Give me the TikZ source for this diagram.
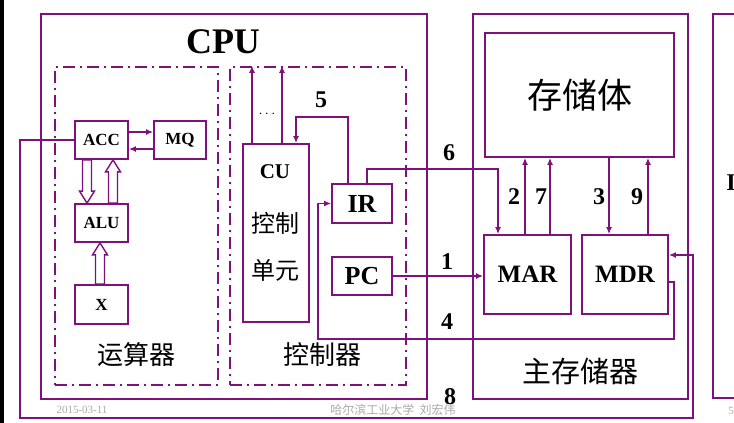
\documentclass[tikz,border=0pt]{standalone}
\usepackage{fontspec}
\setmainfont{Liberation Serif}
\newfontfamily\cjk{Noto Sans CJK SC}
\usetikzlibrary{arrows.meta, calc}
\definecolor{cpupurple}{RGB}{125,18,125}
\definecolor{footgray}{RGB}{170,170,170}
\tikzset{
  frame/.style={
    draw=cpupurple,
    line width=2.6pt,
    inner sep=0pt
  },
  unitbox/.style={
    draw=cpupurple,
    line width=2.4pt,
    inner sep=0pt,
    dash pattern=on 12pt off 5pt on 2pt off 5pt
  },
  reg/.style={
    draw=cpupurple,
    line width=1.8pt,
    inner sep=0pt,
    font=\bfseries\fontsize{17}{17}\selectfont
  },
  bigreg/.style={
    reg,
    font=\bfseries\fontsize{26}{26}\selectfont
  },
  wire/.style={
    draw=cpupurple,
    line width=1.8pt
  },
  arr/.style={
    wire,
    -{Latex[length=7pt, width=6pt]}
  },
  hollow/.style={
    draw=cpupurple,
    line width=1.4pt,
    fill=white
  },
  numlabel/.style={
    font=\bfseries\fontsize{24}{24}\selectfont
  },
  cjklabel/.style={
    font=\cjk\fontsize{26}{26}\selectfont
  },
  footer/.style={
    text=footgray,
    font=\fontsize{11}{11}\selectfont
  }
}
% 空心箭头：#1 箭杆的 x，#2 起点，#3 箭头尖
\newcommand{\hollowarrow}[3]{%
  \path[hollow] let \p1=(#2), \p2=(#3), \p3=($(#3)!12pt!(#2)$) in
    (#1pt-4.5pt,\y1) -- (#1pt-4.5pt,\y3) -- (#1pt-7.5pt,\y3) -- (#1pt,\y2)
    -- (#1pt+7.5pt,\y3) -- (#1pt+4.5pt,\y3) -- (#1pt+4.5pt,\y1) -- cycle;}

\begin{document}
\begin{tikzpicture}[x=1pt, y=-1pt]
  \useasboundingbox (0,0) rectangle (734,423);
  \clip (0,0) rectangle (734,423);
  \fill[white] (0,0) rectangle (734,423);
  \fill[black] (0,0) rectangle (4,423);

  % 外框
  \node[frame, minimum width=386pt, minimum height=385pt] (cpu) at (234,206.5) {};
  \node[frame, minimum width=215pt, minimum height=385pt] (mem) at (580.5,206.5) {};
  \node[frame, minimum width=80pt, minimum height=384pt] (nextbox) at (753,206) {};
  \node[font=\bfseries\fontsize{36}{36}\selectfont] (cpulabel) at (223,42) {CPU};
  \node[font=\bfseries\fontsize{24}{24}\selectfont] (nexttext) at (731,183) {I};

  % 运算器 / 控制器
  \node[unitbox, minimum width=163pt, minimum height=318pt] (calc) at (136.5,226) {};
  \node[unitbox, minimum width=176pt, minimum height=318pt] (ctrl) at (318,226) {};
  \node[cjklabel] (calctext) at (136,355) {运算器};
  \node[cjklabel] (ctrltext) at (322,355) {控制器};

  % 寄存器
  \node[reg, minimum width=53pt, minimum height=38pt] (acc) at (101.5,140) {ACC};
  \node[reg, minimum width=52pt, minimum height=38pt] (mq) at (180,140) {MQ};
  \node[reg, minimum width=53pt, minimum height=38pt] (alu) at (101.5,223) {ALU};
  \node[reg, minimum width=53pt, minimum height=39pt] (xreg) at (101.5,304.5) {X};
  \node[reg, minimum width=66pt, minimum height=178pt] (cu) at (276,233) {};
  \node[font=\bfseries\fontsize{21}{21}\selectfont] (cutext) at (275,172) {CU};
  \node[cjklabel, font=\cjk\fontsize{24}{24}\selectfont] (cutext2) at (275,223) {控制};
  \node[cjklabel, font=\cjk\fontsize{24}{24}\selectfont] (cutext3) at (275,270) {单元};
  \node[bigreg, minimum width=60pt, minimum height=39pt] (ir) at (362,203.5) {IR};
  \node[bigreg, minimum width=60pt, minimum height=38pt] (pc) at (362,276) {PC};

  % 主存储器
  \node[reg, minimum width=189pt, minimum height=124pt,
        font=\cjk\fontsize{35}{35}\selectfont] (store) at (579.5,95) {存储体};
  \node[bigreg, font=\bfseries\fontsize{25}{25}\selectfont,
        minimum width=87pt, minimum height=79pt] (mar) at (527.5,274.5) {MAR};
  \node[bigreg, font=\bfseries\fontsize{25}{25}\selectfont,
        minimum width=86pt, minimum height=79pt] (mdr) at (625,274.5) {MDR};
  \node[cjklabel, font=\cjk\fontsize{29}{29}\selectfont] (memtext) at (580,371) {主存储器};

  % 空心箭头
  \hollowarrow{87}{acc.south}{alu.north}
  \hollowarrow{113}{alu.north}{acc.south}
  \hollowarrow{100}{xreg.north}{alu.south}

  % 连线
  \draw[arr] ([yshift=8pt]acc.east) -- ([yshift=8pt]mq.west);
  \draw[arr] ([yshift=-9pt]mq.west) -- ([yshift=-9pt]acc.east);
  \draw[arr] ([xshift=-24pt]cu.north) -- ([xshift=-24pt]cu.north |- ctrl.north);
  \draw[arr] ([xshift=6pt]cu.north) -- ([xshift=6pt]cu.north |- ctrl.north);
  \node[font=\fontsize{14}{14}\selectfont] (dots) at (267,114) {$\cdots$};
  \draw[arr] ([xshift=-14pt]ir.north) -- ++(0,-66) -| ([xshift=20pt]cu.north);
  \draw[arr] ([xshift=5pt]ir.north) -- ++(0,-14) -| ([xshift=-29.5pt]mar.north);
  \draw[arr] ([xshift=-2.5pt]mar.north) -- ([xshift=-2.5pt]mar.north |- store.south);
  \draw[arr] ([xshift=22.5pt]mar.north) -- ([xshift=22.5pt]mar.north |- store.south);
  \draw[arr] ([xshift=-16pt]mdr.north |- store.south) -- ([xshift=-16pt]mdr.north);
  \draw[arr] ([xshift=23pt]mdr.north) -- ([xshift=23pt]mdr.north |- store.south);
  \draw[arr] (pc.east) -- (pc.east -| mar.west);
  \draw[arr] ([yshift=-7.5pt]mdr.east) -| (674,339) -| ([xshift=-13pt]ir.west) -- (ir.west);
  \draw[arr] (acc.west) -| (20,418) -| (693,255) -- ([yshift=19.5pt]mdr.east);

  % 编号
  \node[numlabel] (n1) at (447,262) {1};
  \node[numlabel] (n2) at (514,197) {2};
  \node[numlabel] (n3) at (599,197) {3};
  \node[numlabel] (n4) at (447,322) {4};
  \node[numlabel] (n5) at (321,100) {5};
  \node[numlabel] (n6) at (449,153) {6};
  \node[numlabel] (n7) at (541,197) {7};
  \node[numlabel] (n8) at (450,397) {8};
  \node[numlabel] (n9) at (637,197) {9};

  % 页脚
  \node[footer] (date) at (82,410) {2015-03-11};
  \node[footer, font=\cjk\fontsize{12}{12}\selectfont] (school) at (393,410) {哈尔滨工业大学\ \ 刘宏伟};
  \node[footer] (page) at (731,411) {5};
\end{tikzpicture}
\end{document}
